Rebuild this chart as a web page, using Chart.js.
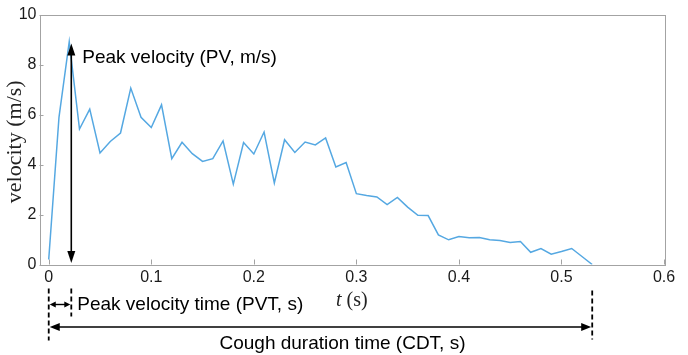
<!DOCTYPE html>
<html>
<head>
<meta charset="utf-8">
<script src="https://cdn.jsdelivr.net/npm/chart.js@4.4.1/dist/chart.umd.min.js"></script>
<style>
html,body{margin:0;padding:0;background:#fff;}
canvas{display:block;}
</style>
</head>
<body>
<canvas id="c" width="688" height="355"></canvas>
<script>
// ---- data ----
const times = [0.00,0.01,0.02,0.03,0.04,0.05,0.06,0.07,0.08,0.09,
               0.10,0.11,0.12,0.13,0.14,0.15,0.16,0.17,0.18,0.19,
               0.20,0.21,0.22,0.23,0.24,0.25,0.26,0.27,0.28,0.29,
               0.30,0.31,0.32,0.33,0.34,0.35,0.36,0.37,0.38,0.39,
               0.40,0.41,0.42,0.43,0.44,0.45,0.46,0.47,0.48,0.49,
               0.50,0.51,0.52,0.53];
const velocities = [0.2,5.9,8.93,5.43,6.23,4.47,4.93,5.27,7.07,5.9,
                    5.49,6.4,4.24,4.9,4.44,4.13,4.24,4.95,3.22,4.89,
                    4.43,5.31,3.27,5.0,4.49,4.91,4.79,5.07,3.91,4.09,
                    2.84,2.77,2.71,2.4,2.69,2.3,1.97,1.96,1.19,0.99,
                    1.12,1.07,1.08,0.99,0.96,0.88,0.92,0.49,0.64,0.41,
                    0.52,0.64,0.32,0.0];
const xTickLabels = ['0','0.1','0.2','0.3','0.4','0.5','0.6'];
const yTickLabels = ['0','2','4','6','8','10'];
const peakVelocityTime = 0.022;   // PVT (s)
const coughDurationTime = 0.53;   // CDT (s)
const peakVelocity = 8.9;         // PV (m/s)

const SANS = '"Liberation Sans", Arial, sans-serif';
const SERIF = '"Liberation Serif", "Times New Roman", serif';
const FRAME = '#a3a3a3';

function arrowHead(ctx, x, y, dx, dy, len, half){
  const px = -dy, py = dx;
  ctx.beginPath();
  ctx.moveTo(x, y);
  ctx.lineTo(x - dx*len + px*half, y - dy*len + py*half);
  ctx.lineTo(x - dx*len - px*half, y - dy*len - py*half);
  ctx.closePath();
  ctx.fill();
}
function doubleArrow(ctx, x1, y1, x2, y2, len, half, lw){
  const L = Math.hypot(x2-x1, y2-y1);
  const dx = (x2-x1)/L, dy = (y2-y1)/L;
  ctx.lineWidth = lw;
  ctx.beginPath();
  ctx.moveTo(x1 + dx*len*0.8, y1 + dy*len*0.8);
  ctx.lineTo(x2 - dx*len*0.8, y2 - dy*len*0.8);
  ctx.stroke();
  arrowHead(ctx, x2, y2, dx, dy, len, half);
  arrowHead(ctx, x1, y1, -dx, -dy, len, half);
}
function dashed(ctx, x, y1, y2){
  ctx.save();
  ctx.setLineDash([5,3]);
  ctx.lineWidth = 1.8;
  ctx.beginPath();
  ctx.moveTo(x, y1); ctx.lineTo(x, y2);
  ctx.stroke();
  ctx.restore();
}

const framePlugin = {
  id: 'frame',
  beforeDatasetsDraw(chart){
    const {ctx, chartArea: a, scales: {x, y}} = chart;
    ctx.save();
    ctx.strokeStyle = FRAME;
    ctx.lineWidth = 1;
    ctx.strokeRect(Math.round(a.left)+0.5, Math.round(a.top)+0.5,
                   Math.round(a.right-a.left), Math.round(a.bottom-a.top));
    ctx.beginPath();
    x.ticks.forEach(t => {
      const px = Math.round(x.getPixelForValue(t.value)) + 0.5;
      ctx.moveTo(px, a.bottom); ctx.lineTo(px, a.bottom - 5);
    });
    y.ticks.forEach(t => {
      const py = Math.round(y.getPixelForValue(t.value)) + 0.5;
      ctx.moveTo(a.left, py); ctx.lineTo(a.left + 4, py);
    });
    ctx.stroke();
    ctx.restore();
  }
};

const annotPlugin = {
  id: 'annot',
  afterDraw(chart){
    const {ctx, chartArea: a, scales: {x, y}} = chart;
    ctx.save();
    ctx.fillStyle = '#000';
    ctx.strokeStyle = '#000';

    const x0 = x.getPixelForValue(0);
    const xp = x.getPixelForValue(peakVelocityTime);
    const xc = x.getPixelForValue(coughDurationTime);

    // PV vertical arrow
    doubleArrow(ctx, xp, y.getPixelForValue(0) - 1.5, xp, y.getPixelForValue(peakVelocity) + 1, 12, 4, 1.6);
    ctx.font = '19px ' + SANS;
    ctx.textBaseline = 'middle';
    ctx.textAlign = 'left';
    ctx.fillText('Peak velocity (PV, m/s)', xp + 11, y.getPixelForValue(peakVelocity) + 15);

    // dashed markers
    const b = a.bottom;
    dashed(ctx, x0, b + 24, b + 76);
    dashed(ctx, xp, b + 24, b + 52);
    dashed(ctx, xc, b + 26, b + 75);

    // PVT small arrow
    doubleArrow(ctx, x0 + 1, b + 40, xp - 1, b + 40, 6, 3, 1.4);
    ctx.fillText('Peak velocity time (PVT, s)', xp + 6, b + 40);

    // CDT long arrow
    doubleArrow(ctx, x0 + 1, b + 62.5, xc - 1, b + 62.5, 10, 4, 1.6);
    ctx.textAlign = 'center';
    ctx.fillText('Cough duration time (CDT, s)', (x0 + xc)/2 + 22, b + 79);

    // x axis title: italic t + (s)
    const cx = (a.left + a.right)/2;
    const ty = b + 36;
    ctx.textAlign = 'left';
    ctx.fillStyle = '#222';
    ctx.font = 'italic 20px ' + SERIF;
    const w1 = ctx.measureText('t').width;
    ctx.font = '20px ' + SERIF;
    const w2 = ctx.measureText(' (s)').width;
    const sx = cx - (w1 + w2)/2;
    ctx.font = 'italic 20px ' + SERIF;
    ctx.fillText('t', sx, ty);
    ctx.font = '20px ' + SERIF;
    ctx.fillText(' (s)', sx + w1, ty);

    // y axis title
    ctx.save();
    ctx.translate(15, (a.top + a.bottom)/2 + 2);
    ctx.rotate(-Math.PI/2);
    ctx.textAlign = 'center';
    ctx.font = '22px ' + SERIF;
    ctx.fillText('velocity (m/s)', 0, 0);
    ctx.restore();

    ctx.restore();
  }
};

new Chart(document.getElementById('c'), {
  type: 'line',
  data: {
    datasets: [{
      data: times.map((t, i) => ({x: t, y: velocities[i]})),
      borderColor: '#55a8e2',
      borderWidth: 1.5,
      pointRadius: 0,
      tension: 0,
      fill: false
    }]
  },
  options: {
    responsive: false,
    devicePixelRatio: 1,
    animation: false,
    events: [],
    layout: { padding: { top: 15, right: 24, left: 0, bottom: 0 } },
    plugins: { legend: { display: false }, tooltip: { enabled: false } },
    scales: {
      x: {
        type: 'linear',
        min: -0.009, max: 0.6,
        grid: { display: false, drawTicks: false },
        border: { display: false },
        afterFit(s){ s.height = 90.5; },
        ticks: {
          stepSize: 0.1,
          includeBounds: false,
          padding: 3,
          color: '#1a1a1a',
          font: { family: SANS, size: 16 },
          maxRotation: 0,
          callback: (v) => { const i = Math.round(v*10); return (Math.abs(v*10 - i) < 1e-6 && i >= 0) ? xTickLabels[i] : ''; }
        }
      },
      y: {
        min: 0, max: 10,
        grid: { display: false, drawTicks: false },
        border: { display: false },
        afterFit(s){ s.width = 39.5; },
        ticks: {
          stepSize: 2,
          padding: 3,
          color: '#1a1a1a',
          font: { family: SANS, size: 16 },
          callback: (v) => yTickLabels[Math.round(v/2)]
        }
      }
    }
  },
  plugins: [framePlugin, annotPlugin]
});
</script>
</body>
</html>
